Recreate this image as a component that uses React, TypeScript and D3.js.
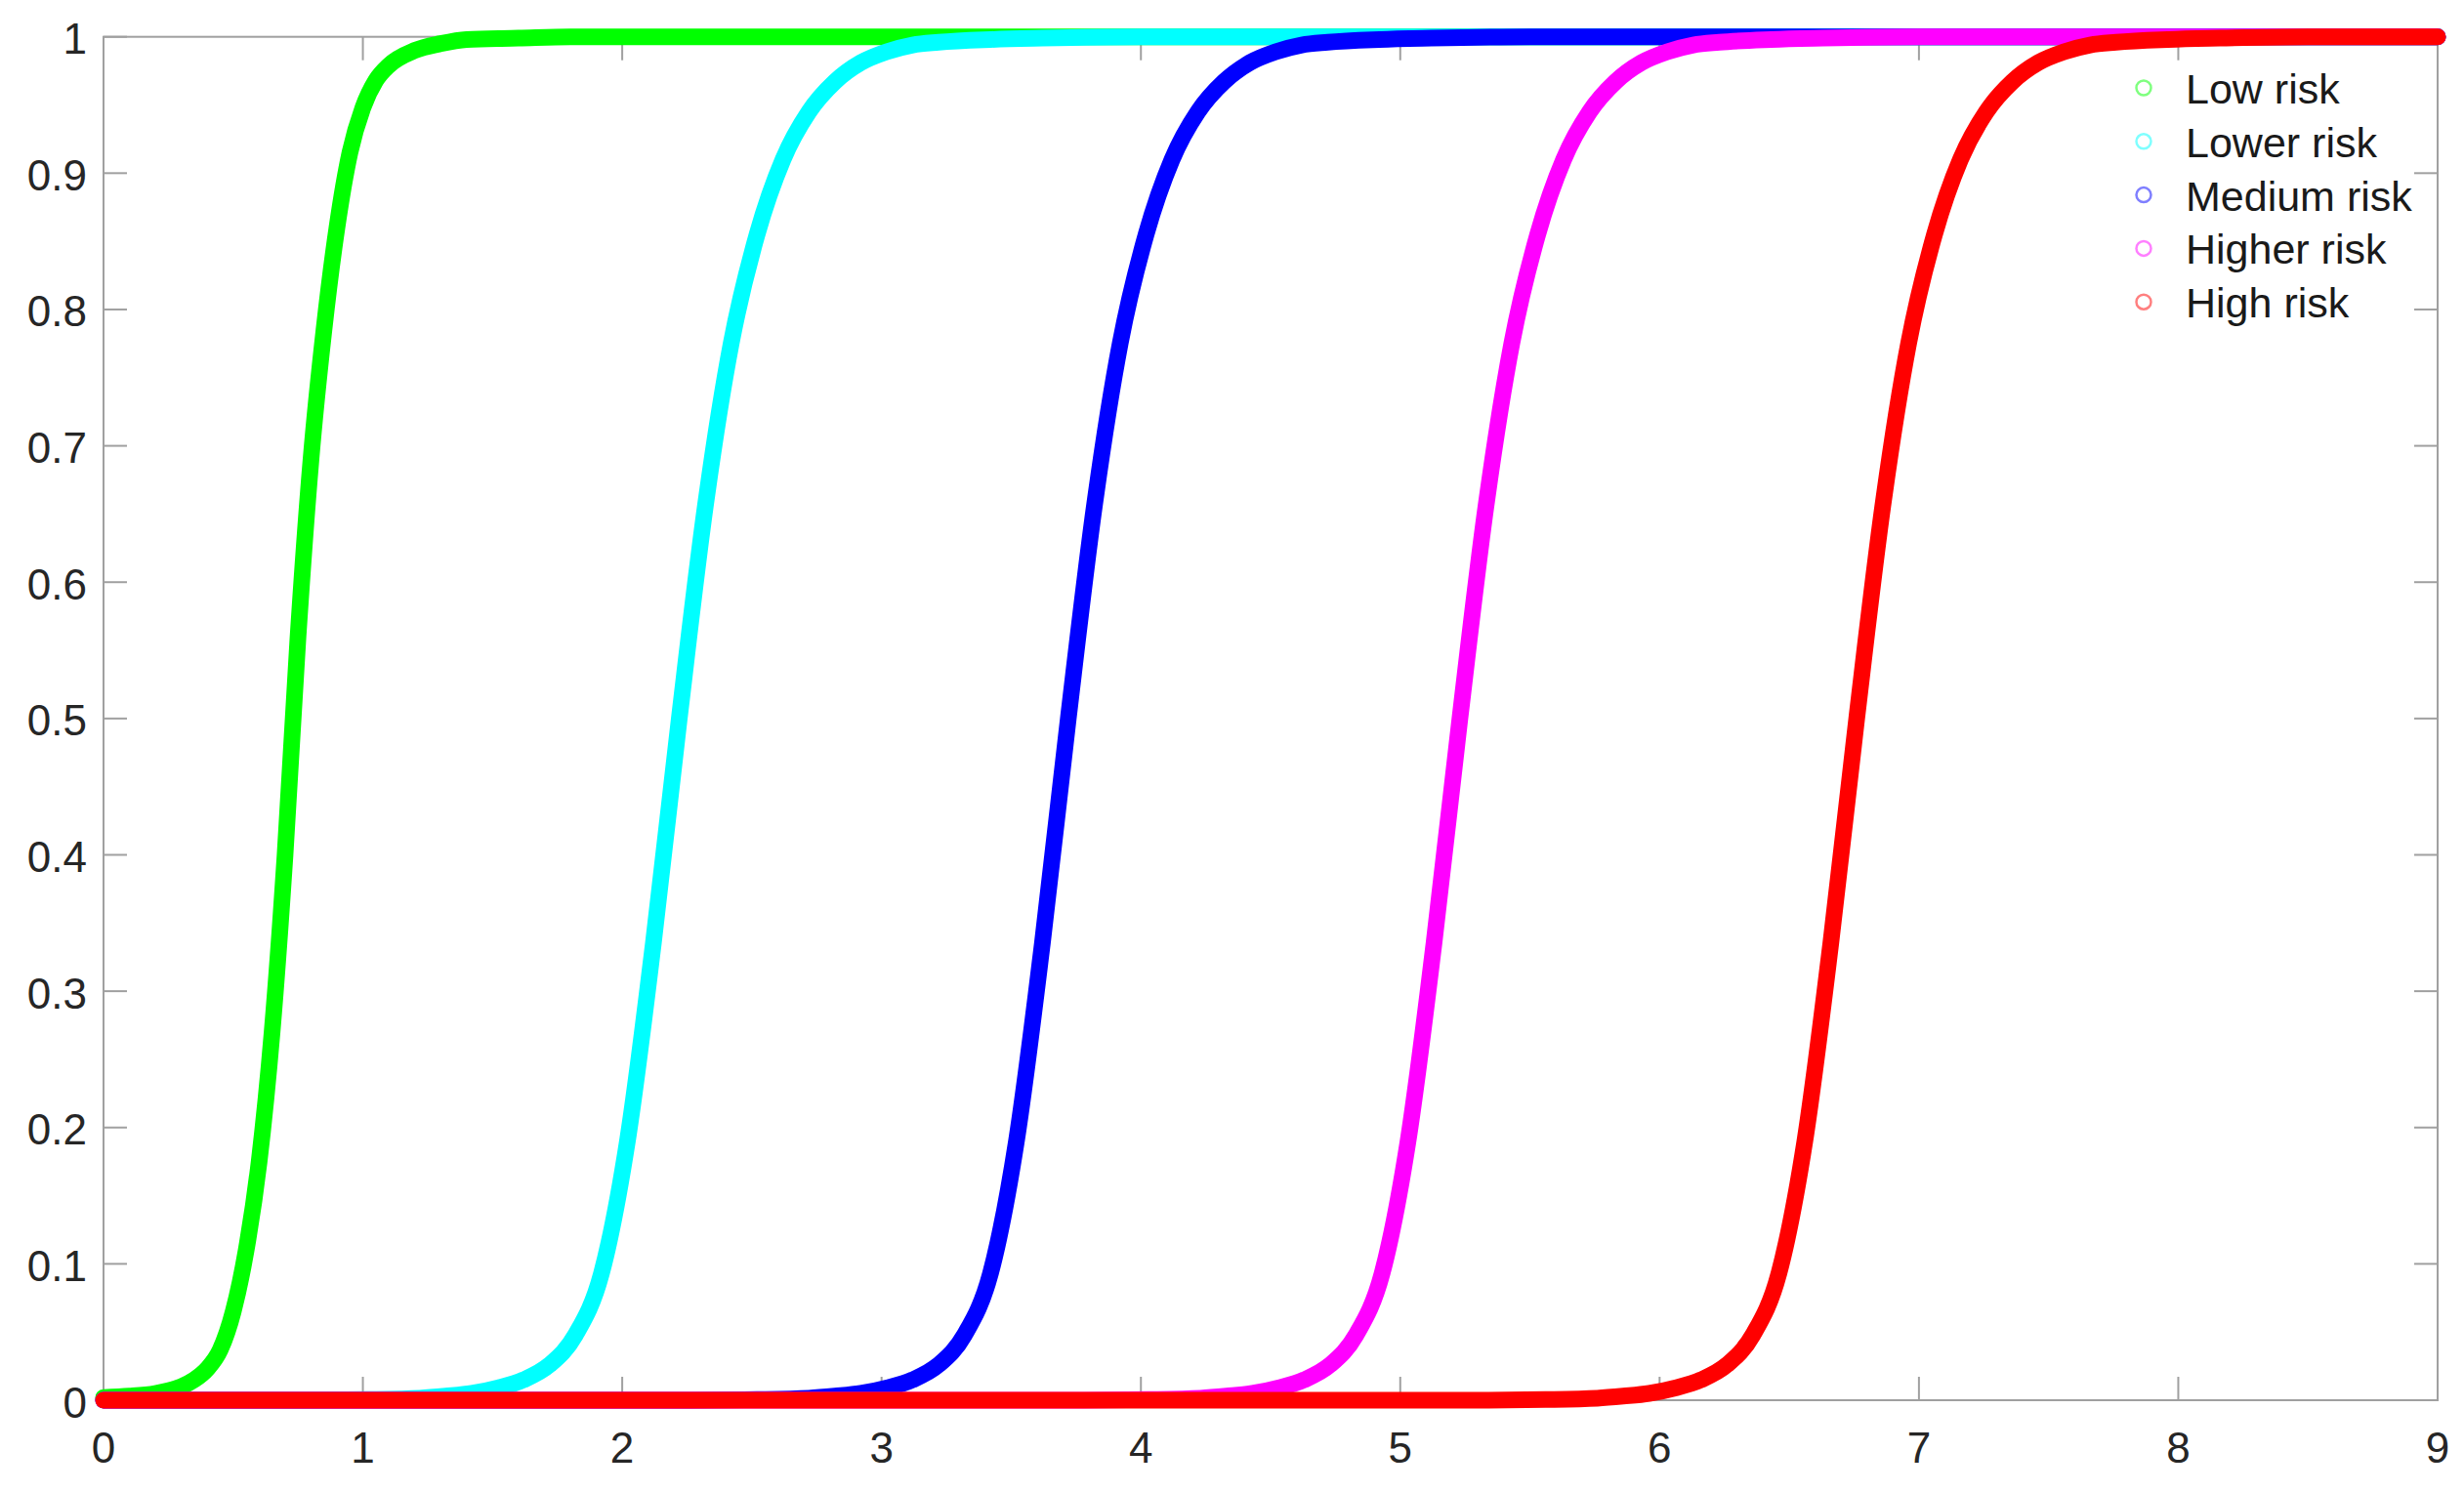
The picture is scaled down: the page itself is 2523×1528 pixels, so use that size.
import * as d3 from "d3";

const seriesNames = ["Low risk", "Lower risk", "Medium risk", "Higher risk", "High risk"];
const seriesColors = ["#00ff00", "#00ffff", "#0000ff", "#ff00ff", "#ff0000"];

// values (x, cumulative probability)
const lowRiskX = [0, 0.1, 0.2, 0.25, 0.3, 0.35, 0.4, 0.45, 0.5, 0.55, 0.6, 0.65, 0.7, 0.75, 0.8, 0.85, 0.9, 0.95, 1.0, 1.05, 1.1, 1.2, 1.3, 1.4, 1.6, 1.8, 9];
const lowRiskY = [0.002, 0.003, 0.005, 0.007, 0.01, 0.015, 0.023, 0.037, 0.065, 0.11, 0.175, 0.27, 0.4, 0.56, 0.69, 0.785, 0.86, 0.915, 0.948, 0.968, 0.979, 0.99, 0.995, 0.998, 0.999, 1, 1];

const lowerRiskX = [0, 0.72, 1.02, 1.22, 1.32, 1.42, 1.52, 1.62, 1.72, 1.82, 1.92, 2.02, 2.12, 2.22, 2.32, 2.42, 2.52, 2.62, 2.72, 2.82, 2.92, 3.02, 3.12, 3.22, 3.42, 3.62, 4.0, 9];
const lowerRiskY = [0, 0, 0.0005, 0.0015, 0.003, 0.005, 0.009, 0.015, 0.026, 0.048, 0.093, 0.19, 0.335, 0.5, 0.655, 0.775, 0.855, 0.91, 0.945, 0.967, 0.981, 0.989, 0.994, 0.996, 0.998, 0.999, 1, 1];

const mediumRiskX = [0, 2.22, 2.52, 2.72, 2.82, 2.92, 3.02, 3.12, 3.22, 3.32, 3.42, 3.52, 3.62, 3.72, 3.82, 3.92, 4.02, 4.12, 4.22, 4.32, 4.42, 4.52, 4.62, 4.72, 4.92, 5.12, 5.5, 9];
const mediumRiskY = [0, 0, 0.0005, 0.0015, 0.003, 0.005, 0.009, 0.015, 0.026, 0.048, 0.093, 0.19, 0.335, 0.5, 0.655, 0.775, 0.855, 0.91, 0.945, 0.967, 0.981, 0.989, 0.994, 0.996, 0.998, 0.999, 1, 1];

const higherRiskX = [0, 3.73, 4.03, 4.23, 4.33, 4.43, 4.53, 4.63, 4.73, 4.83, 4.93, 5.03, 5.13, 5.23, 5.33, 5.43, 5.53, 5.63, 5.73, 5.83, 5.93, 6.03, 6.13, 6.23, 6.43, 6.63, 7.0, 9];
const higherRiskY = [0, 0, 0.0005, 0.0015, 0.003, 0.005, 0.009, 0.015, 0.026, 0.048, 0.093, 0.19, 0.335, 0.5, 0.655, 0.775, 0.855, 0.91, 0.945, 0.967, 0.981, 0.989, 0.994, 0.996, 0.998, 0.999, 1, 1];

const highRiskX = [0, 5.26, 5.56, 5.76, 5.86, 5.96, 6.06, 6.16, 6.26, 6.36, 6.46, 6.56, 6.66, 6.76, 6.86, 6.96, 7.06, 7.16, 7.26, 7.36, 7.46, 7.56, 7.66, 7.76, 7.96, 8.16, 8.5, 9];
const highRiskY = [0, 0, 0.0005, 0.0015, 0.003, 0.005, 0.009, 0.015, 0.026, 0.048, 0.093, 0.19, 0.335, 0.5, 0.655, 0.775, 0.855, 0.91, 0.945, 0.967, 0.981, 0.989, 0.994, 0.996, 0.998, 0.999, 1, 1];

const xTicks = [0, 1, 2, 3, 4, 5, 6, 7, 8, 9];
const yTicks = [0, 0.1, 0.2, 0.3, 0.4, 0.5, 0.6, 0.7, 0.8, 0.9, 1];
const yTickLabels = ["0", "0.1", "0.2", "0.3", "0.4", "0.5", "0.6", "0.7", "0.8", "0.9", "1"];

const seriesX = [lowRiskX, lowerRiskX, mediumRiskX, higherRiskX, highRiskX];
const seriesY = [lowRiskY, lowerRiskY, mediumRiskY, higherRiskY, highRiskY];

export default function App() {
  const width = 2523;
  const height = 1528;
  const margin = { top: 37.7, right: 27, bottom: 94, left: 106 };
  const font = "'Liberation Sans', Arial, Helvetica, sans-serif";
  const axisColor = "#a0a0a0";
  const tickLen = 24;

  const x = d3.scaleLinear().domain([0, 9]).range([margin.left, width - margin.right]);
  const y = d3.scaleLinear().domain([0, 1]).range([height - margin.bottom, margin.top]);

  const line = d3
    .line<[number, number]>()
    .x((d) => x(d[0]))
    .y((d) => y(d[1]))
    .curve(d3.curveMonotoneX);

  const x0 = x(0);
  const x1 = x(9);
  const y0 = y(0);
  const y1 = y(1);

  return (
    <svg
      width={width}
      height={height}
      style={{ position: "absolute", left: 0, top: 0, background: "#fff" }}
    >
      {/* box */}
      <rect x={x0} y={y1} width={x1 - x0} height={y0 - y1} fill="none" stroke={axisColor} strokeWidth={2} />

      {/* ticks */}
      {xTicks.map((t) => (
        <g key={"xt" + t}>
          <line x1={x(t)} x2={x(t)} y1={y0} y2={y0 - tickLen} stroke={axisColor} strokeWidth={2} />
          <line x1={x(t)} x2={x(t)} y1={y1} y2={y1 + tickLen} stroke={axisColor} strokeWidth={2} />
          <text
            x={x(t)}
            y={y0 + 48}
            textAnchor="middle"
            dominantBaseline="central"
            fontFamily={font}
            fontSize={44}
            fill="#262626"
          >
            {t}
          </text>
        </g>
      ))}
      {yTicks.map((t, i) => (
        <g key={"yt" + t}>
          <line x1={x0} x2={x0 + tickLen} y1={y(t)} y2={y(t)} stroke={axisColor} strokeWidth={2} />
          <line x1={x1} x2={x1 - tickLen} y1={y(t)} y2={y(t)} stroke={axisColor} strokeWidth={2} />
          <text
            x={x0 - 17}
            y={y(t) + 2}
            textAnchor="end"
            dominantBaseline="central"
            fontFamily={font}
            fontSize={44}
            fill="#262626"
          >
            {yTickLabels[i]}
          </text>
        </g>
      ))}

      {/* curves */}
      {seriesX.map((xs, i) => {
        const pts = xs.map((v, j) => [v, seriesY[i][j]] as [number, number]);
        return (
          <path
            key={seriesNames[i]}
            d={line(pts) || ""}
            fill="none"
            stroke={seriesColors[i]}
            strokeWidth={17}
            strokeLinecap="round"
            strokeLinejoin="round"
          />
        );
      })}

      {/* legend */}
      {seriesNames.map((name, i) => {
        const cy = 90 + i * 54.8;
        return (
          <g key={"lg" + name}>
            <circle cx={2195} cy={cy} r={7.5} fill="none" stroke={seriesColors[i]} strokeOpacity={0.5} strokeWidth={2.5} />
            <text x={2238} y={cy + 16} fontFamily={font} fontSize={43} fill="#1a1a1a">
              {name}
            </text>
          </g>
        );
      })}
    </svg>
  );
}
